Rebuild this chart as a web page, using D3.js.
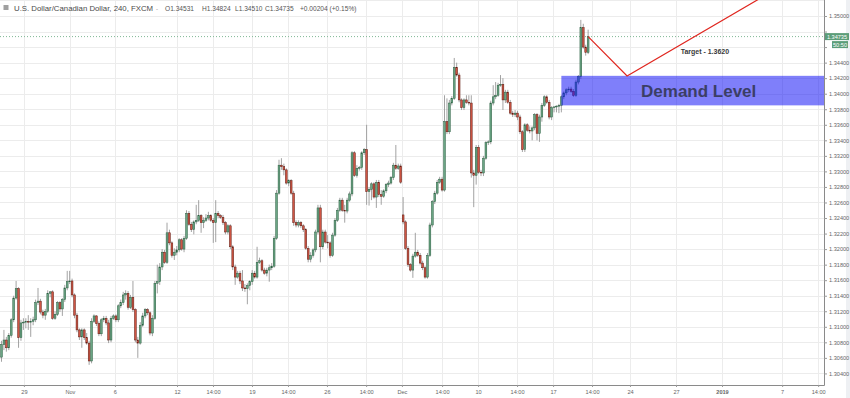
<!DOCTYPE html>
<html><head><meta charset="utf-8">
<script src="https://cdn.jsdelivr.net/npm/d3@7"></script>
<style>
html,body{margin:0;padding:0;background:#fff;}
svg{display:block;font-family:"Liberation Sans",Arial,sans-serif;}
</style></head><body>
<svg id="c" width="850" height="398"></svg>
<script>
// ---- DATA ----
// 4-hour candles USD/CAD, [open, high, low, close]
const candles = [
[1.3061,1.3082,1.3055,1.3077],[1.3077,1.3096,1.3070,1.3083],[1.3083,1.3087,1.3068,1.3073],[1.3073,1.3092,1.3070,1.3089],
[1.3089,1.3111,1.3086,1.3109],[1.3109,1.3140,1.3106,1.3137],[1.3137,1.3159,1.3135,1.3149],[1.3149,1.3151,1.3073,1.3086],
[1.3086,1.3109,1.3082,1.3105],[1.3105,1.3111,1.3096,1.3106],[1.3106,1.3111,1.3098,1.3107],[1.3107,1.3115,1.3096,1.3106],
[1.3106,1.3111,1.3087,1.3107],[1.3107,1.3113,1.3102,1.3109],[1.3109,1.3135,1.3106,1.3131],[1.3131,1.3150,1.3128,1.3133],
[1.3133,1.3136,1.3116,1.3119],[1.3119,1.3122,1.3111,1.3115],[1.3115,1.3123,1.3109,1.3120],[1.3120,1.3147,1.3118,1.3143],
[1.3143,1.3146,1.3138,1.3145],[1.3145,1.3147,1.3109,1.3111],[1.3111,1.3120,1.3109,1.3116],[1.3116,1.3133,1.3114,1.3131],
[1.3131,1.3133,1.3119,1.3123],[1.3123,1.3137,1.3114,1.3135],[1.3135,1.3154,1.3132,1.3150],[1.3150,1.3172,1.3147,1.3158],
[1.3158,1.3172,1.3155,1.3159],[1.3159,1.3162,1.3138,1.3141],[1.3141,1.3143,1.3111,1.3115],[1.3115,1.3118,1.3093,1.3096],
[1.3096,1.3098,1.3083,1.3087],[1.3087,1.3098,1.3073,1.3096],[1.3096,1.3098,1.3083,1.3086],[1.3086,1.3092,1.3077,1.3079],
[1.3079,1.3082,1.3051,1.3056],[1.3056,1.3111,1.3053,1.3107],[1.3107,1.3116,1.3105,1.3114],[1.3114,1.3115,1.3101,1.3104],
[1.3104,1.3107,1.3088,1.3091],[1.3091,1.3111,1.3088,1.3109],[1.3109,1.3114,1.3106,1.3111],[1.3111,1.3114,1.3102,1.3105],
[1.3105,1.3109,1.3079,1.3083],[1.3083,1.3114,1.3080,1.3111],[1.3111,1.3116,1.3109,1.3114],[1.3114,1.3116,1.3106,1.3109],
[1.3109,1.3129,1.3106,1.3127],[1.3127,1.3135,1.3124,1.3131],[1.3131,1.3145,1.3128,1.3141],[1.3141,1.3147,1.3135,1.3143],
[1.3143,1.3146,1.3122,1.3125],[1.3125,1.3141,1.3123,1.3138],[1.3138,1.3159,1.3119,1.3122],[1.3122,1.3124,1.3080,1.3083],
[1.3083,1.3087,1.3060,1.3079],[1.3079,1.3106,1.3077,1.3102],[1.3102,1.3118,1.3100,1.3114],[1.3114,1.3124,1.3111,1.3122],
[1.3122,1.3124,1.3115,1.3118],[1.3118,1.3120,1.3089,1.3092],[1.3092,1.3115,1.3088,1.3111],[1.3111,1.3159,1.3109,1.3156],
[1.3156,1.3180,1.3143,1.3158],[1.3158,1.3182,1.3154,1.3177],[1.3177,1.3200,1.3173,1.3196],[1.3196,1.3199,1.3181,1.3183],
[1.3183,1.3234,1.3181,1.3221],[1.3221,1.3225,1.3205,1.3208],[1.3208,1.3210,1.3189,1.3192],[1.3192,1.3201,1.3186,1.3196],
[1.3196,1.3204,1.3192,1.3199],[1.3199,1.3214,1.3196,1.3212],[1.3212,1.3214,1.3198,1.3200],[1.3200,1.3217,1.3196,1.3214],
[1.3214,1.3250,1.3212,1.3246],[1.3246,1.3249,1.3230,1.3232],[1.3232,1.3235,1.3222,1.3225],[1.3225,1.3237,1.3219,1.3235],
[1.3235,1.3257,1.3232,1.3237],[1.3237,1.3263,1.3235,1.3243],[1.3243,1.3245,1.3221,1.3234],[1.3234,1.3241,1.3227,1.3237],
[1.3237,1.3245,1.3235,1.3240],[1.3240,1.3248,1.3237,1.3243],[1.3243,1.3245,1.3235,1.3237],[1.3237,1.3240,1.3208,1.3234],
[1.3234,1.3263,1.3209,1.3246],[1.3246,1.3249,1.3240,1.3243],[1.3243,1.3245,1.3239,1.3241],[1.3241,1.3244,1.3231,1.3234],
[1.3234,1.3236,1.3219,1.3222],[1.3222,1.3232,1.3219,1.3230],[1.3230,1.3232,1.3200,1.3203],[1.3203,1.3205,1.3173,1.3177],
[1.3177,1.3180,1.3154,1.3164],[1.3164,1.3172,1.3162,1.3169],[1.3169,1.3172,1.3155,1.3159],[1.3159,1.3173,1.3146,1.3150],
[1.3150,1.3155,1.3145,1.3149],[1.3149,1.3156,1.3129,1.3153],[1.3153,1.3160,1.3147,1.3158],[1.3158,1.3173,1.3154,1.3169],
[1.3169,1.3172,1.3162,1.3164],[1.3164,1.3203,1.3162,1.3183],[1.3183,1.3189,1.3181,1.3185],[1.3185,1.3187,1.3171,1.3173],
[1.3173,1.3176,1.3167,1.3169],[1.3169,1.3176,1.3165,1.3173],[1.3173,1.3180,1.3158,1.3176],[1.3176,1.3182,1.3173,1.3178],
[1.3178,1.3217,1.3176,1.3214],[1.3214,1.3276,1.3212,1.3272],[1.3272,1.3315,1.3270,1.3308],[1.3308,1.3317,1.3302,1.3306],
[1.3306,1.3310,1.3295,1.3302],[1.3302,1.3304,1.3283,1.3285],[1.3285,1.3290,1.3281,1.3288],[1.3288,1.3290,1.3270,1.3272],
[1.3272,1.3275,1.3230,1.3234],[1.3234,1.3237,1.3228,1.3231],[1.3231,1.3237,1.3228,1.3234],[1.3234,1.3236,1.3227,1.3230],
[1.3230,1.3232,1.3222,1.3225],[1.3225,1.3227,1.3199,1.3201],[1.3201,1.3204,1.3183,1.3187],[1.3187,1.3196,1.3183,1.3192],
[1.3192,1.3201,1.3189,1.3199],[1.3199,1.3225,1.3196,1.3222],[1.3222,1.3257,1.3219,1.3253],[1.3253,1.3257,1.3183,1.3203],
[1.3203,1.3225,1.3200,1.3222],[1.3222,1.3225,1.3207,1.3209],[1.3209,1.3218,1.3201,1.3208],[1.3208,1.3210,1.3189,1.3192],
[1.3192,1.3221,1.3190,1.3218],[1.3218,1.3240,1.3216,1.3237],[1.3237,1.3253,1.3235,1.3250],[1.3250,1.3266,1.3248,1.3263],
[1.3263,1.3266,1.3248,1.3250],[1.3250,1.3257,1.3234,1.3249],[1.3249,1.3266,1.3246,1.3263],[1.3263,1.3274,1.3261,1.3271],
[1.3271,1.3326,1.3268,1.3324],[1.3324,1.3326,1.3293,1.3295],[1.3295,1.3308,1.3292,1.3304],[1.3304,1.3307,1.3301,1.3305],
[1.3305,1.3326,1.3302,1.3324],[1.3324,1.3330,1.3321,1.3328],[1.3328,1.3360,1.3257,1.3274],[1.3274,1.3280,1.3256,1.3277],
[1.3277,1.3286,1.3263,1.3284],[1.3284,1.3286,1.3265,1.3267],[1.3267,1.3289,1.3253,1.3286],[1.3286,1.3289,1.3267,1.3270],
[1.3270,1.3276,1.3257,1.3268],[1.3268,1.3277,1.3266,1.3275],[1.3275,1.3285,1.3272,1.3283],[1.3283,1.3288,1.3280,1.3285],
[1.3285,1.3294,1.3283,1.3292],[1.3292,1.3311,1.3289,1.3308],[1.3308,1.3334,1.3302,1.3304],[1.3304,1.3310,1.3302,1.3307],
[1.3307,1.3310,1.3284,1.3286],
[1.3244,1.3267,1.3232,1.3235],[1.3235,1.3237,1.3199,1.3201],[1.3201,1.3204,1.3177,1.3180],[1.3180,1.3182,1.3171,1.3173],
[1.3173,1.3194,1.3163,1.3191],[1.3191,1.3221,1.3189,1.3196],[1.3196,1.3199,1.3190,1.3192],[1.3192,1.3195,1.3180,1.3182],
[1.3182,1.3185,1.3173,1.3176],[1.3176,1.3178,1.3162,1.3164],[1.3164,1.3195,1.3162,1.3192],[1.3192,1.3234,1.3190,1.3231],
[1.3231,1.3263,1.3228,1.3261],[1.3261,1.3275,1.3258,1.3272],[1.3272,1.3289,1.3270,1.3286],[1.3286,1.3293,1.3284,1.3290],
[1.3290,1.3293,1.3274,1.3276],[1.3276,1.3398,1.3274,1.3364],[1.3364,1.3394,1.3348,1.3351],[1.3351,1.3392,1.3348,1.3388],
[1.3388,1.3397,1.3385,1.3394],[1.3394,1.3446,1.3392,1.3434],[1.3434,1.3440,1.3422,1.3424],[1.3424,1.3427,1.3389,1.3392],
[1.3392,1.3394,1.3379,1.3382],[1.3382,1.3394,1.3379,1.3392],[1.3392,1.3398,1.3387,1.3389],[1.3389,1.3398,1.3385,1.3388],
[1.3388,1.3398,1.3292,1.3298],[1.3298,1.3302,1.3254,1.3295],[1.3295,1.3334,1.3283,1.3331],[1.3331,1.3334,1.3297,1.3299],
[1.3299,1.3302,1.3294,1.3298],[1.3298,1.3320,1.3294,1.3317],[1.3317,1.3339,1.3315,1.3337],[1.3337,1.3340,1.3334,1.3338],
[1.3338,1.3391,1.3335,1.3388],[1.3388,1.3411,1.3385,1.3396],[1.3396,1.3415,1.3393,1.3398],[1.3398,1.3414,1.3396,1.3411],
[1.3411,1.3424,1.3409,1.3412],[1.3412,1.3420,1.3379,1.3392],[1.3392,1.3405,1.3388,1.3402],[1.3402,1.3405,1.3387,1.3389],
[1.3389,1.3392,1.3373,1.3375],[1.3375,1.3378,1.3370,1.3373],[1.3373,1.3379,1.3370,1.3375],[1.3375,1.3378,1.3366,1.3370],
[1.3370,1.3373,1.3348,1.3351],[1.3351,1.3353,1.3325,1.3328],[1.3328,1.3362,1.3325,1.3360],[1.3360,1.3362,1.3351,1.3353],
[1.3353,1.3358,1.3349,1.3352],[1.3352,1.3358,1.3340,1.3356],[1.3356,1.3375,1.3353,1.3373],[1.3373,1.3375,1.3340,1.3349],
[1.3349,1.3373,1.3338,1.3370],[1.3370,1.3388,1.3364,1.3385],[1.3385,1.3398,1.3383,1.3396],[1.3396,1.3398,1.3387,1.3389],
[1.3389,1.3392,1.3367,1.3370],[1.3370,1.3384,1.3366,1.3382],[1.3382,1.3384,1.3376,1.3383],[1.3383,1.3385,1.3376,1.3384],
[1.3384,1.3387,1.3375,1.3385],[1.3385,1.3398,1.3376,1.3396],[1.3396,1.3403,1.3393,1.3401],[1.3401,1.3407,1.3398,1.3405],
[1.3405,1.3409,1.3402,1.3406],[1.3406,1.3409,1.3401,1.3403],[1.3403,1.3406,1.3396,1.3398],[1.3398,1.3418,1.3396,1.3415],
[1.3415,1.3424,1.3412,1.3422],[1.3422,1.3495,1.3419,1.3485],[1.3485,1.3490,1.3458,1.3460],[1.3460,1.3463,1.3449,1.34531],
[1.34531,1.34824,1.34510,1.34735]
];
const priceTicks = [1.304,1.306,1.308,1.310,1.312,1.314,1.316,1.318,1.320,1.322,1.324,1.326,1.328,1.330,1.332,1.334,1.336,1.338,1.340,1.342,1.344,1.346,1.348,1.350];
const timeTickIndex  = [9.2, 28.1, 46.6, 72.1, 86.9, 102.9, 117.7, 133.7, 149.8, 164.5, 181.0, 195.8, 211.8, 226.6, 242.6, 258.2, 277.1, 296.0, 320.7, 335.5];
const timeTickLabels = ["29","Nov","6","12","14:00","19","14:00","26","14:00","Dec","14:00","10","14:00","17","14:00","24","27","2019","7","14:00"];
const headerTitle = "U.S. Dollar/Canadian Dollar, 240, FXCM";
const headerOHLC = ["O1.34531","H1.34824","L1.34510","C1.34735","+0.00204 (+0.15%)"];
const lastPrice = 1.34735;
const countdown = "50:50";
const demandZone = {start: 230, low: 1.3385, high: 1.3423, label: "Demand Level"};
const projectionIdx   = [241, 257, 320];
const projectionPrice = [1.34735, 1.34228, 1.3538];
const targetLabel = {idx: 279, price: 1.3451, text: "Target - 1.3620"};

// ---- CHART ----
const W = 850, H = 398, plotR = 824, plotB = 385;
const svg = d3.select("#c");
const x = d3.scaleLinear().domain([-0.616, 337.9]).range([0, plotR]);
const y = d3.scaleLinear().domain([1.30251, 1.35206]).range([plotB, 0]);

svg.append("rect").attr("x",846).attr("y",0).attr("width",4).attr("height",H).attr("fill","#eef0f3");

const clip = svg.append("defs").append("clipPath").attr("id","pc");
clip.append("rect").attr("x",0).attr("y",0).attr("width",plotR).attr("height",plotB);

// grid
const grid = svg.append("g");
grid.selectAll("line.h").data(priceTicks.concat([1.352])).join("line")
  .attr("x1",0).attr("x2",plotR).attr("y1",d=>Math.round(y(d))+0.5).attr("y2",d=>Math.round(y(d))+0.5)
  .attr("stroke","#ececec").attr("stroke-width",1);
grid.selectAll("line.v").data(timeTickIndex).join("line")
  .attr("y1",0).attr("y2",plotB).attr("x1",d=>Math.round(x(d))+0.5).attr("x2",d=>Math.round(x(d))+0.5)
  .attr("stroke","#ececec").attr("stroke-width",1);

const plot = svg.append("g").attr("clip-path","url(#pc)");

// last price dotted line
plot.append("line").attr("x1",0).attr("x2",plotR).attr("y1",y(lastPrice)).attr("y2",y(lastPrice))
  .attr("stroke","#7fb894").attr("stroke-width",1).attr("stroke-dasharray","1,2");

// candles
const bw = 1.8;
const cg = plot.append("g");
cg.selectAll("line").data(candles).join("line")
  .attr("x1",(d,i)=>x(i)).attr("x2",(d,i)=>x(i))
  .attr("y1",d=>y(d[1])).attr("y2",d=>y(d[2]))
  .attr("stroke","#8c8c8c").attr("stroke-width",0.8);
cg.selectAll("rect").data(candles).join("rect")
  .attr("x",(d,i)=>x(i)-bw/2).attr("width",bw)
  .attr("y",d=>y(Math.max(d[0],d[3])))
  .attr("height",d=>Math.max(0.8, Math.abs(y(d[0])-y(d[3]))))
  .attr("fill",d=>d[3]>=d[0]?"#6aa584":"#cf5543")
  .attr("stroke",d=>d[3]>=d[0]?"#2b5e40":"#5e1b12").attr("stroke-width",0.5);

// demand zone
const zx = x(demandZone.start);
plot.append("rect").attr("x",zx).attr("y",y(demandZone.high))
  .attr("width",plotR-zx).attr("height",y(demandZone.low)-y(demandZone.high))
  .attr("fill","rgba(10,10,245,0.52)");
svg.append("text").attr("x",(zx+plotR)/2+6).attr("y",(y(demandZone.low)+y(demandZone.high))/2+6)
  .attr("text-anchor","middle").attr("font-size",17).attr("font-weight","bold")
  .attr("fill","#3b3e66").text(demandZone.label);

// projection line
plot.append("path").datum(projectionIdx.map((d,i)=>[d,projectionPrice[i]]))
  .attr("d", d3.line().x(d=>x(d[0])).y(d=>y(d[1])))
  .attr("fill","none").attr("stroke","#e0261f").attr("stroke-width",1.2);
svg.append("text").attr("x",x(targetLabel.idx)).attr("y",y(targetLabel.price))
  .attr("font-size",7).attr("font-weight","bold").attr("fill","#3a3a3a").text(targetLabel.text);

// axes
const yAxis = d3.axisRight(y).tickValues(priceTicks).tickFormat(d3.format(".5f")).tickSize(3).tickPadding(2);
const ya = svg.append("g").attr("transform",`translate(${plotR},0)`).call(yAxis);
ya.select(".domain").attr("stroke","#8a8a8a").attr("d",`M0.5,0V${plotB+0.5}`);
ya.selectAll(".tick line").attr("stroke","#9a9a9a");
ya.selectAll(".tick text").attr("font-size",5.6).attr("fill","#666").attr("font-family","Liberation Sans, Arial, sans-serif")
  .attr("display",d=>Math.abs(y(d)-y(lastPrice))<12?"none":null);

const xAxis = d3.axisBottom(x).tickValues(timeTickIndex).tickFormat((d,i)=>timeTickLabels[i]).tickSize(2).tickPadding(3);
const xa = svg.append("g").attr("transform",`translate(0,${plotB})`).call(xAxis);
xa.select(".domain").attr("stroke","#8a8a8a").attr("d",`M0,0.5H${plotR+0.5}`);
xa.selectAll(".tick line").attr("stroke","#9a9a9a");
xa.selectAll(".tick text").attr("font-size",5.6).attr("fill","#666").attr("font-family","Liberation Sans, Arial, sans-serif")
  .attr("font-weight",(d,i)=>timeTickLabels[i]==="2019"?"bold":"normal");

// last price label + countdown
const ly = y(lastPrice);
svg.append("rect").attr("x",plotR+1).attr("y",ly-3.5).attr("width",24).attr("height",7).attr("fill","#5c9d79");
svg.append("text").attr("x",plotR+13).attr("y",ly+2).attr("text-anchor","middle").attr("font-size",5.6)
  .attr("fill","#fff").text(d3.format(".5f")(lastPrice));
svg.append("rect").attr("x",plotR+8).attr("y",ly+4.5).attr("width",16).attr("height",7).attr("fill","#5c9d79");
svg.append("text").attr("x",plotR+16).attr("y",ly+10).attr("text-anchor","middle").attr("font-size",5.6)
  .attr("fill","#fff").text(countdown);

// header
svg.append("rect").attr("x",3.5).attr("y",5).attr("width",5).attr("height",5).attr("fill","#a0a0a0");
svg.append("text").attr("x",14).attr("y",11).attr("font-size",7.8).attr("fill","#4a4a4a").text(headerTitle);
svg.append("text").attr("x",156).attr("y",10.5).attr("font-size",6).attr("fill","#888").text("-");
const hx = [165, 202, 235, 265, 300];
headerOHLC.forEach((t,i)=>{
  svg.append("text").attr("x",hx[i]).attr("y",11).attr("font-size",6.6).attr("fill","#555").text(t);
});
</script>
</body></html>
